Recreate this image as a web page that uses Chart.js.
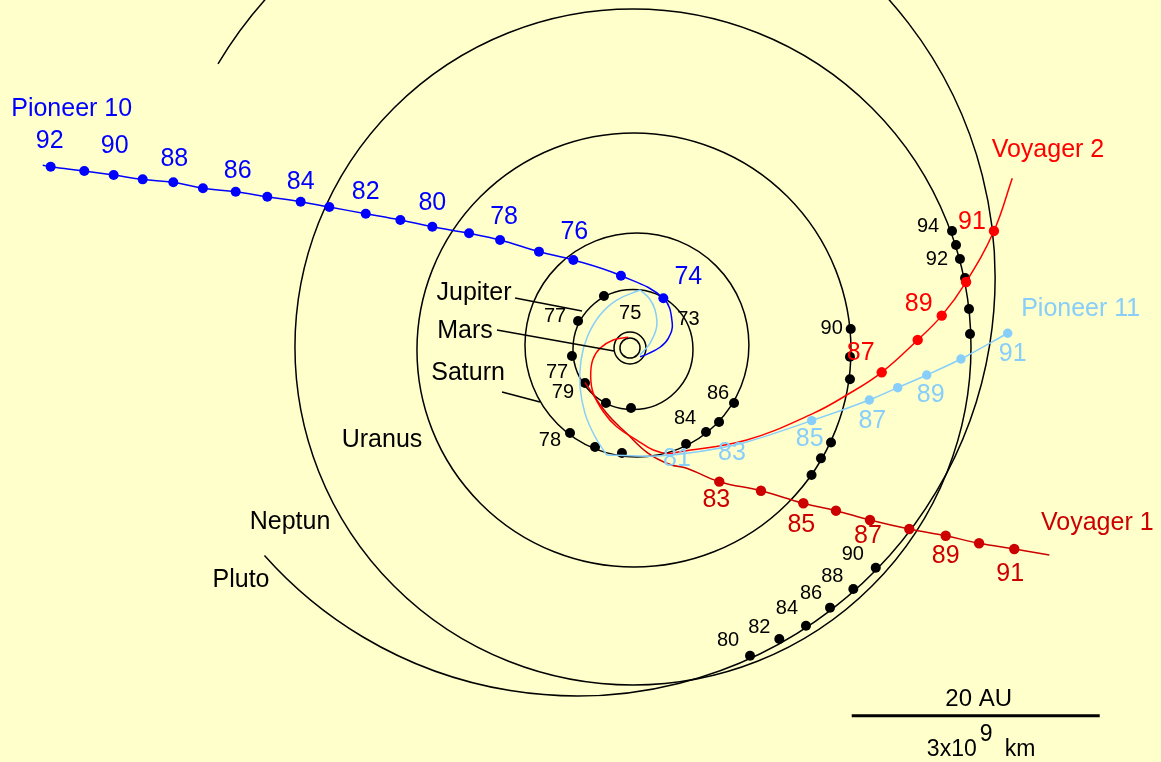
<!DOCTYPE html>
<html>
<head>
<meta charset="utf-8">
<title>Pioneer 10/11 und Voyager 1/2</title>
<script src="https://cdn.jsdelivr.net/npm/chart.js@4.4.1/dist/chart.umd.min.js"></script>
<style>
  html, body { margin: 0; padding: 0; background: #ffffcc; overflow: hidden; }
  canvas { display: block; }
</style>
</head>
<body>
<canvas id="c" width="1161" height="762"></canvas>
<script>
// Heliocentric positions in AU: x to the right, y upward, Sun at the origin.
// Two-digit numbers are years (19xx).

// ---- Pioneer 10 ----
const p10LaunchX = [0.81, 1.35, 2.42, 3.09, 3.41];
const p10LaunchY = [-0.70, -0.51, 0.06, 0.78, 1.99];
const p10Years = [74, 75, 76, 77, 78, 79, 80, 81, 82, 83, 84, 85, 86, 87, 88, 89, 90, 91, 92];
const p10X = [2.69, -0.73, -4.57, -7.34, -10.48, -12.98, -15.94, -18.52, -21.31, -24.25, -26.56, -29.25, -31.80, -34.44, -36.83, -39.30, -41.64, -44.01, -46.72];
const p10Y = [4.01, 5.83, 7.10, 7.77, 8.71, 9.25, 9.78, 10.32, 10.83, 11.37, 11.80, 12.20, 12.60, 12.88, 13.36, 13.60, 13.95, 14.27, 14.62];
const p10TailX = [-47.36];
const p10TailY = [14.73];

// ---- Pioneer 11 ----
const p11ToJupiterX = [0.81, 1.61, 2.15, 2.02, 1.53, 0.81];
const p11ToJupiterY = [-0.56, 0.38, 1.72, 3.06, 4.03, 4.68];
const p11ToSaturnX = [-1.07, -2.42, -3.44, -3.95, -4.03, -3.63, -2.82];
const p11ToSaturnY = [3.87, 2.66, 0.91, -0.97, -3.12, -5.27, -7.15];
const p11Years = [79, 81, 83, 85, 87, 88, 89, 90, 91];
const p11X = [-1.88, 2.58, 8.63, 14.65, 19.30, 21.59, 23.93, 26.69, 30.46];
const p11Y = [-8.63, -8.69, -7.78, -5.86, -4.19, -3.20, -2.18, -0.89, 1.19];

// ---- Voyager 2 ----
const v2CruiseX = [-0.14, -1.35, -2.42, -3.01, -3.17, -2.96, -2.15, -1.07, 0.54, 1.88, 3.06, 4.03, 9.41, 14.78, 17.48];
const v2CruiseY = [0.86, 0.65, -0.02, -0.97, -2.32, -3.65, -5.14, -6.35, -7.42, -8.23, -8.51, -8.36, -7.42, -5.27, -3.79];
const v2Years = [87, 88, 89, 90, 91];
const v2X = [20.30, 23.20, 25.14, 27.10, 29.35];
const v2Y = [-1.96, 0.65, 2.61, 5.32, 9.44];
const v2TailX = [30.83];
const v2TailY = [13.69];

// ---- Voyager 1 ----
const v1CruiseX = [-3.63, -1.88, -0.27, 1.45, 3.23, 4.57];
const v1CruiseY = [-2.78, -5.27, -6.88, -8.47, -9.40, -9.70];
const v1Years = [83, 84, 85, 86, 87, 88, 89, 90, 91];
const v1X = [7.20, 10.56, 13.98, 16.61, 19.35, 22.52, 25.46, 28.15, 30.99];
const v1Y = [-10.78, -11.51, -12.52, -13.12, -13.87, -14.60, -15.14, -15.75, -16.21];
const v1TailX = [33.82];
const v1TailY = [-16.69];

// ---- Planet positions ----
const jupiterYears = [73, 74, 75, 76, 77, 78, 79, 80, 81];
const jupiterX = [4.63, 2.66, 0.58, -2.10, -4.19, -4.68, -3.63, -1.94, 0.08];
const jupiterY = [1.93, 4.07, 4.71, 4.19, 2.18, -0.65, -2.82, -4.44, -4.84];
const saturnYears = [78, 79, 80, 83, 84, 85, 86];
const saturnX = [-4.84, -2.82, -0.65, 4.52, 6.13, 7.18, 8.39];
const saturnY = [-6.85, -7.98, -8.47, -7.74, -6.77, -5.97, -4.44];
const uranusYears = [82, 83, 84, 88, 89, 90];
const uranusX = [14.64, 15.40, 16.21, 17.74, 17.74, 17.80];
const uranusY = [-10.24, -8.90, -7.62, -2.52, -0.70, 1.53];
const neptuneYears = [87, 89, 91, 92, 93, 94];
const neptuneX = [27.42, 27.34, 27.02, 26.61, 26.29, 25.97];
const neptuneY = [1.13, 3.15, 5.65, 7.18, 8.31, 9.44];
const plutoYears = [80, 82, 84, 86, 88, 90];
const plutoX = [9.68, 12.04, 14.19, 16.13, 18.01, 19.82];
const plutoY = [-24.82, -23.47, -22.40, -20.94, -19.44, -17.72];

// ---- Orbits (centre and radius, AU) ----
const orbitNames = ['Erde', 'Mars', 'Jupiter', 'Saturn', 'Uranus', 'Neptun', 'Pluto'];
const orbitCenterX = [0, 0, 0.24, 0.56, 0.32, 0.24, -4.27];
const orbitCenterY = [0, 0, -0.12, 0.24, -0.16, 0.08, 5.65];
const orbitRadius = [0.81, 1.29, 4.84, 9.03, 17.50, 27.26, 33.71];

// ---- Scale bar ----
const scaleBarAU = 20;
const scaleBarKm = ['3x10', '9', 'km'];

// ================= presentation =================
const FONT = '"Liberation Sans", Arial, Helvetica, sans-serif';
const COLORS = { bg: '#ffffcc', ink: '#000000', p10: '#0000ff', p11: '#87cefa', v1: '#cc0000', v2: '#ff0000' };
const VIEW = { width: 1161, height: 762, sunPx: [630, 348], pxPerAU: 12.4 };
const xMin = -VIEW.sunPx[0] / VIEW.pxPerAU;
const xMax = (VIEW.width - VIEW.sunPx[0]) / VIEW.pxPerAU;
const yMin = -(VIEW.height - VIEW.sunPx[1]) / VIEW.pxPerAU;
const yMax = VIEW.sunPx[1] / VIEW.pxPerAU;

// Pluto's orbit is left open on the left side (screen angles, degrees).
const orbitArcs = { Pluto: [-149.2, 138.4] };
const scaleBarAnchor = { x: 17.88, y: -29.65 };

const bodies = {
  p10: { years: p10Years, x: p10X, y: p10Y },
  p11: { years: p11Years, x: p11X, y: p11Y },
  v1: { years: v1Years, x: v1X, y: v1Y },
  v2: { years: v2Years, x: v2X, y: v2Y },
  jupiter: { years: jupiterYears, x: jupiterX, y: jupiterY },
  saturn: { years: saturnYears, x: saturnX, y: saturnY },
  uranus: { years: uranusYears, x: uranusX, y: uranusY },
  neptune: { years: neptuneYears, x: neptuneX, y: neptuneY },
  pluto: { years: plutoYears, x: plutoX, y: plutoY }
};

// Year labels: [year, dx px, dy px] relative to that year's position.
const yearLabelSpecs = [
  { body: 'p10', color: COLORS.p10, size: 25, marks: [[92, -1, -26], [90, 1, -29], [88, 1, -23], [86, 2, -21], [84, 0, -20], [82, 0, -22], [80, 0, -24], [78, 4, -23], [76, 1, -28], [74, 25, -21]] },
  { body: 'p11', color: COLORS.p11, size: 25, marks: [[81, 15, 3], [83, -5, 9], [85, -2, 18], [87, 3, 21], [89, 4, 20], [91, 5, 21]] },
  { body: 'v2', color: COLORS.v2, size: 25, marks: [[87, -21, -19], [89, -23, -12], [91, -22, -9]] },
  { body: 'v1', color: COLORS.v1, size: 25, marks: [[83, -3, 18], [85, -2, 22], [87, -2, 16], [89, 0, 20], [91, -4, 25]] },
  { body: 'jupiter', color: COLORS.ink, size: 20, marks: [[73, 1, -5], [75, -7, 24], [77, -23, -4], [77, -21, 52], [79, -22, 10]] },
  { body: 'saturn', color: COLORS.ink, size: 20, marks: [[78, -20, 8], [84, -21, -13], [86, -16, -10]] },
  { body: 'uranus', color: COLORS.ink, size: 20, marks: [[90, -19, -1]] },
  { body: 'neptune', color: COLORS.ink, size: 20, marks: [[94, -24, -4], [92, -23, 1]] },
  { body: 'pluto', color: COLORS.ink, size: 20, marks: [[80, -22, -15], [82, -20, -12], [84, -19, -17], [86, -19, -14], [88, -21, -13], [90, -23, -13]] }
];

const craftNames = [
  { body: 'p10', text: 'Pioneer 10', year: 92, dx: 21, dy: -58, color: COLORS.p10 },
  { body: 'v2', text: 'Voyager 2', year: 91, dx: 54, dy: -81, color: COLORS.v2 },
  { body: 'p11', text: 'Pioneer 11', year: 91, dx: 73, dy: -24, color: COLORS.p11 },
  { body: 'v1', text: 'Voyager 1', year: 91, dx: 83, dy: -26, color: COLORS.v1 }
];

const planetNames = [
  { text: 'Jupiter', x: -12.58, y: 4.40, leader: [[-9.27, 4.03], [-3.87, 2.98]] },
  { text: 'Mars', x: -13.31, y: 1.37, leader: [[-10.73, 1.45], [-1.29, -0.24]] },
  { text: 'Saturn', x: -13.06, y: -2.02, leader: [[-10.32, -3.55], [-7.26, -4.36]] },
  { text: 'Uranus', x: -20.0, y: -7.46 },
  { text: 'Neptun', x: -27.42, y: -14.03 },
  { text: 'Pluto', x: -31.37, y: -18.71 }
];

// ---- helpers ----
const pts = (xs, ys) => xs.map((x, i) => ({ x, y: ys[i] }));

function lineSet(label, points, color, tension, order, width) {
  return { label, data: points, showLine: true, borderColor: color, borderWidth: width || 1.5,
    pointRadius: 0, pointHoverRadius: 0, tension, fill: false, order, borderCapStyle: 'butt' };
}
function dotSet(label, body, color, radius, order, firstShownYear) {
  const b = bodies[body];
  return { label, data: pts(b.x, b.y), showLine: false, order,
    pointRadius: ctx => (firstShownYear && b.years[ctx.dataIndex] < firstShownYear) ? 0 : radius,
    pointHoverRadius: radius, pointBackgroundColor: color, pointBorderColor: color, pointBorderWidth: 0 };
}

const p10Line = pts(p10LaunchX, p10LaunchY).concat(pts(p10X, p10Y), pts(p10TailX, p10TailY));
const p11Leg1 = pts(p11ToJupiterX, p11ToJupiterY);
const p11Leg2 = [p11Leg1[p11Leg1.length - 1]].concat(pts(p11ToSaturnX, p11ToSaturnY), [{ x: p11X[0], y: p11Y[0] }]);
const p11Leg3 = pts(p11X, p11Y);
const v2Line = pts(v2CruiseX, v2CruiseY).concat(pts(v2X, v2Y), pts(v2TailX, v2TailY));
const v1Line = pts(v1CruiseX, v1CruiseY).concat(pts(v1X, v1Y), pts(v1TailX, v1TailY));

const datasets = [
  dotSet('Pioneer 10', 'p10', COLORS.p10, 5, 1),
  dotSet('Pioneer 11', 'p11', COLORS.p11, 4.7, 1, 85),
  dotSet('Voyager 2', 'v2', COLORS.v2, 5.2, 1),
  dotSet('Voyager 1', 'v1', COLORS.v1, 5.2, 1),
  lineSet('Pioneer 10 Bahn', p10Line, COLORS.p10, 0.4, 2),
  lineSet('Pioneer 11 Bahn 1', p11Leg1, COLORS.p11, 0.4, 2),
  lineSet('Pioneer 11 Bahn 2', p11Leg2, COLORS.p11, 0.4, 2),
  lineSet('Pioneer 11 Bahn 3', p11Leg3, COLORS.p11, 0.3, 2),
  lineSet('Voyager 1 Bahn', v1Line, COLORS.v1, 0.4, 3),
  lineSet('Voyager 2 Bahn', v2Line, COLORS.v2, 0.4, 2),
  dotSet('Jupiter', 'jupiter', COLORS.ink, 5, 4, 76),
  dotSet('Saturn', 'saturn', COLORS.ink, 5, 4),
  dotSet('Uranus', 'uranus', COLORS.ink, 5, 4),
  dotSet('Neptun', 'neptune', COLORS.ink, 5, 4),
  dotSet('Pluto', 'pluto', COLORS.ink, 5, 4),
  lineSet('Massstab', [{ x: scaleBarAnchor.x, y: scaleBarAnchor.y }, { x: scaleBarAnchor.x + scaleBarAU, y: scaleBarAnchor.y }], COLORS.ink, 0, 5, 3)
];

function px(chart, x, y) {
  return [chart.scales.x.getPixelForValue(x), chart.scales.y.getPixelForValue(y)];
}
function text(ctx, s, x, y, color, size, align) {
  ctx.save();
  ctx.font = size + 'px ' + FONT;
  ctx.fillStyle = color;
  ctx.textAlign = align || 'center';
  ctx.textBaseline = 'middle';
  ctx.fillText(s, x, y);
  ctx.restore();
}

const backgroundPlugin = {
  id: 'paper',
  beforeDraw(chart) {
    const { ctx, width, height } = chart;
    ctx.save();
    ctx.fillStyle = COLORS.bg;
    ctx.fillRect(0, 0, width, height);
    ctx.restore();
  }
};

const orbitPlugin = {
  id: 'orbits',
  beforeDatasetsDraw(chart) {
    const { ctx } = chart;
    const xs = chart.scales.x;
    ctx.save();
    ctx.strokeStyle = COLORS.ink;
    ctx.lineWidth = 1.5;
    orbitNames.forEach((name, i) => {
      const [cx, cy] = px(chart, orbitCenterX[i], orbitCenterY[i]);
      const r = Math.abs(xs.getPixelForValue(orbitCenterX[i] + orbitRadius[i]) - xs.getPixelForValue(orbitCenterX[i]));
      const arc = orbitArcs[name] || [0, 360];
      ctx.beginPath();
      ctx.arc(cx, cy, r, arc[0] * Math.PI / 180, arc[1] * Math.PI / 180);
      ctx.stroke();
    });
    ctx.restore();
  }
};

const annotationPlugin = {
  id: 'annotations',
  afterDatasetsDraw(chart) {
    const { ctx } = chart;
    // planet names with leader lines
    ctx.save();
    ctx.strokeStyle = COLORS.ink;
    ctx.lineWidth = 1.5;
    planetNames.forEach(p => {
      const [x, y] = px(chart, p.x, p.y);
      text(ctx, p.text, x, y, COLORS.ink, 25);
      if (p.leader) {
        const a = px(chart, p.leader[0][0], p.leader[0][1]);
        const b = px(chart, p.leader[1][0], p.leader[1][1]);
        ctx.beginPath();
        ctx.moveTo(a[0], a[1]);
        ctx.lineTo(b[0], b[1]);
        ctx.stroke();
      }
    });
    ctx.restore();

    // year labels
    yearLabelSpecs.forEach(spec => {
      const b = bodies[spec.body];
      spec.marks.forEach(([year, dx, dy]) => {
        const i = b.years.indexOf(year);
        if (i < 0) return;
        const [x, y] = px(chart, b.x[i], b.y[i]);
        text(ctx, String(year), x + dx, y + dy, spec.color, spec.size);
      });
    });

    // spacecraft names
    craftNames.forEach(c => {
      const b = bodies[c.body];
      const i = b.years.indexOf(c.year);
      const [x, y] = px(chart, b.x[i], b.y[i]);
      text(ctx, c.text, x + c.dx, y + c.dy, c.color, 25);
    });

    // scale bar captions
    const [l, by] = px(chart, scaleBarAnchor.x, scaleBarAnchor.y);
    const [r] = px(chart, scaleBarAnchor.x + scaleBarAU, scaleBarAnchor.y);
    const mid = (l + r) / 2;
    text(ctx, scaleBarAU + ' AU', mid + 3, by - 16, COLORS.ink, 24);
    text(ctx, scaleBarKm[0], mid + 1, by + 34, COLORS.ink, 23, 'right');
    text(ctx, scaleBarKm[1], mid + 4, by + 19, COLORS.ink, 23, 'left');
    text(ctx, scaleBarKm[2], mid + 29, by + 34, COLORS.ink, 23, 'left');
  }
};

Chart.defaults.font.family = FONT;

new Chart(document.getElementById('c'), {
  type: 'scatter',
  data: { datasets },
  options: {
    responsive: false,
    maintainAspectRatio: false,
    animation: false,
    devicePixelRatio: 1,
    events: [],
    layout: { padding: 0, autoPadding: false },
    scales: {
      x: { type: 'linear', display: false, min: xMin, max: xMax, bounds: 'data' },
      y: { type: 'linear', display: false, min: yMin, max: yMax, bounds: 'data' }
    },
    plugins: {
      legend: { display: false },
      tooltip: { enabled: false },
      title: { display: false }
    }
  },
  plugins: [backgroundPlugin, orbitPlugin, annotationPlugin]
});
</script>
</body>
</html>
